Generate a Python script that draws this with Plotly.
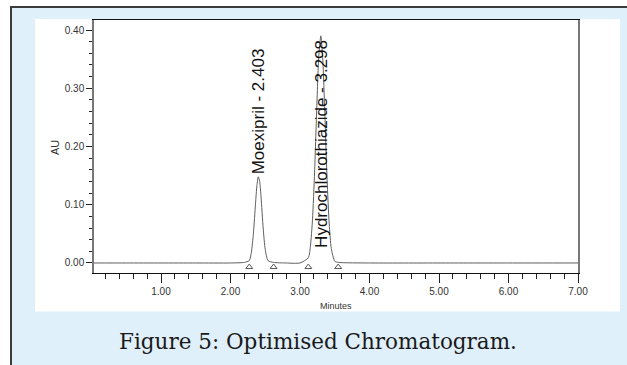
import plotly.graph_objects as go

# ---------------- data ----------------
time_min = [0.036, 0.5, 1.0, 1.5, 2.0, 2.2, 2.27, 2.30, 2.33, 2.36, 2.38, 2.40, 2.42, 2.44,
            2.47, 2.50, 2.54, 2.62, 2.8, 3.0, 3.12, 3.15, 3.18, 3.21, 3.24, 3.27, 3.30,
            3.33, 3.36, 3.39, 3.42, 3.45, 3.50, 3.55, 4.0, 5.0, 6.0, 7.0]
absorbance = [0.000, 0.000, 0.000, 0.000, 0.000, 0.001, 0.004, 0.018, 0.051, 0.102, 0.133, 0.148,
              0.140, 0.113, 0.060, 0.023, 0.004, 0.001, 0.000, 0.000, 0.009, 0.029, 0.075, 0.156,
              0.262, 0.355, 0.390, 0.345, 0.247, 0.143, 0.067, 0.025, 0.003, 0.001, 0.000,
              0.000, 0.000, 0.000]

peak_names = ["Moexipril - 2.403", "Hydrochlorothiazide - 3.298"]
peak_times = [2.403, 3.298]
peak_heights = [0.148, 0.022]          # where each label starts (bottom of rotated text)

integration_marks_t = [2.27, 2.62, 3.12, 3.55]
integration_marks_y = [-0.007, -0.007, -0.007, -0.007]

x_tick_vals = [1, 2, 3, 4, 5, 6, 7]
x_tick_text = ["1.00", "2.00", "3.00", "4.00", "5.00", "6.00", "7.00"]
y_tick_vals = [0.0, 0.1, 0.2, 0.3, 0.4]
y_tick_text = ["0.00", "0.10", "0.20", "0.30", "0.40"]

caption = "Figure 5: Optimised Chromatogram."

# ---------------- layout constants ----------------
W, H = 627, 365
ML, MR, MT, MB = 94, 49, 20, 92
PW, PH = W - ML - MR, H - MT - MB


def px(xp):
    return (xp - ML) / PW


def py(yp):
    return (H - MB - yp) / PH


SANS = "Liberation Sans, Arial, sans-serif"

fig = go.Figure()

fig.add_trace(go.Scatter(
    x=time_min, y=absorbance, mode="lines",
    line=dict(color="#5e5e5e", width=1, shape="spline", smoothing=0.6),
    hoverinfo="skip", showlegend=False))

fig.add_trace(go.Scatter(
    x=integration_marks_t, y=integration_marks_y, mode="markers",
    marker=dict(symbol="triangle-up-open", size=6, color="#555555", line=dict(width=1)),
    hoverinfo="skip", showlegend=False))

for name, t, h in zip(peak_names, peak_times, peak_heights):
    fig.add_annotation(x=t, y=h, xref="x", yref="y", text=name, showarrow=False,
                       textangle=-90, xanchor="center", yanchor="bottom",
                       font=dict(family=SANS, size=17, color="#111111"))

shapes = [
    # outer light-blue card with dark border
    dict(type="rect", xref="paper", yref="paper", x0=px(11), x1=px(660), y0=py(400), y1=py(7),
         fillcolor="#e0f0fa", line=dict(color="#3c3c3c", width=2), layer="below"),
    # white panel holding the chromatogram
    dict(type="rect", xref="paper", yref="paper", x0=px(35), x1=px(620), y0=py(311.5), y1=py(19),
         fillcolor="#ffffff", line=dict(width=0), layer="below"),
]

fig.add_annotation(x=px(318), y=py(341), xref="paper", yref="paper", text=caption,
                   showarrow=False, xanchor="center", yanchor="middle",
                   font=dict(family="DejaVu Serif, serif", size=21.5, color="#1a1a1a"))
fig.add_annotation(x=px(55), y=py(148), xref="paper", yref="paper", text="AU",
                   showarrow=False, textangle=-90, xanchor="center", yanchor="middle",
                   font=dict(family=SANS, size=11, color="#333333"))
fig.add_annotation(x=0.5, y=py(306), xref="paper", yref="paper", text="Minutes",
                   showarrow=False, xanchor="center", yanchor="middle",
                   font=dict(family=SANS, size=9, color="#333333"))

fig.update_layout(
    width=W, height=H,
    margin=dict(l=ML, r=MR, t=MT, b=MB, pad=0),
    paper_bgcolor="#ffffff", plot_bgcolor="rgba(0,0,0,0)",
    shapes=shapes,
    xaxis=dict(range=[0.036, 7.0], tickvals=x_tick_vals, ticktext=x_tick_text,
               showgrid=False, zeroline=False, showline=True, linecolor="#111111", linewidth=1.2,
               mirror=True, ticks="outside", ticklen=9, tickcolor="#222222", tickwidth=1,
               tickfont=dict(family=SANS, size=10, color="#333333"),
               minor=dict(dtick=0.2, tick0=0, ticks="outside", ticklen=5, tickcolor="#222222",
                          showgrid=False)),
    yaxis=dict(range=[-0.0172, 0.4172], tickvals=y_tick_vals, ticktext=y_tick_text,
               showgrid=False, zeroline=False, showline=True, linecolor="#777777", linewidth=1.5,
               mirror=True, ticks="outside", ticklen=6, tickcolor="#222222", tickwidth=1,
               tickfont=dict(family=SANS, size=10, color="#333333"),
               minor=dict(dtick=0.02, tick0=0, ticks="outside", ticklen=3, tickcolor="#222222",
                          showgrid=False)),
)

fig.write_html("out.html")
